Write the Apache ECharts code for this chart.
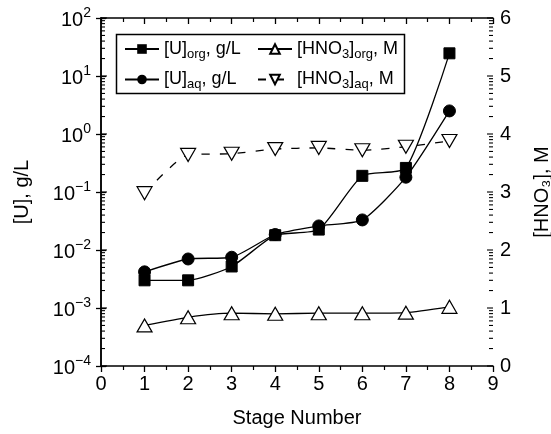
<!DOCTYPE html>
<html>
<head>
<meta charset="utf-8">
<script src="https://cdn.jsdelivr.net/npm/echarts@6/dist/echarts.min.js"></script>
<style>html,body{margin:0;padding:0;background:#fff;}#c{width:551px;height:434px;}</style>
</head>
<body>
<div id="c"></div>
<script>
const stages = [1, 2, 3, 4, 5, 6, 7, 8];
const uOrg = [0.0030, 0.0030, 0.0052, 0.0180, 0.0225, 0.19, 0.26, 24.6];
const uAq = [0.0042, 0.0070, 0.0075, 0.0185, 0.026, 0.033, 0.18, 2.5];
const hno3Org = [0.70, 0.84, 0.91, 0.90, 0.91, 0.91, 0.92, 1.02];
const hno3Aq = [2.98, 3.64, 3.66, 3.74, 3.76, 3.72, 3.78, 3.88];
const xTicks = [0, 1, 2, 3, 4, 5, 6, 7, 8, 9];
const logDecades = [-4, -3, -2, -1, 0, 1];
const logMinorMult = [2, 3, 4, 5, 6, 7, 8, 9];

const FONT = 'Liberation Sans, Arial, Helvetica, sans-serif';
const minorVals = [];
logDecades.forEach(d => logMinorMult.forEach(m => minorVals.push([m * Math.pow(10, d), 0])));
logDecades.concat([2]).forEach(d => minorVals.push([Math.pow(10, d), 1]));

function pairs(ys) { return stages.map((s, i) => [s, ys[i]]); }

const chart = echarts.init(document.getElementById('c'), null, {renderer: 'canvas'});
const supRich = {
  b: {fontSize: 20, fontFamily: FONT, color: '#000', lineHeight: 24, verticalAlign: 'bottom'},
  sup: {fontSize: 14, fontFamily: FONT, color: '#000', lineHeight: 24, verticalAlign: 'top', padding: [0, 0, 9, 0]}
};
const legRich = {
  a: {fontSize: 18, fontFamily: FONT, color: '#000'},
  s: {fontSize: 13, fontFamily: FONT, color: '#000', padding: [10, 0, 0, 0]}
};
const legendCommon = {
  orient: 'vertical', itemWidth: 34, itemHeight: 12, itemGap: 10,
  textStyle: {rich: legRich, fontSize: 18, fontFamily: FONT, color: '#000'},
  formatter: function (n) {
    const m = {
      'Uorg': '{a|[U]}{s|org}{a|, g/L}',
      'Uaq': '{a|[U]}{s|aq}{a|, g/L}',
      'Horg': '{a|[HNO}{s|3}{a|]}{s|org}{a|, M}',
      'Haq': '{a|[HNO}{s|3}{a|]}{s|aq}{a|, M}'
    };
    return m[n];
  }
};
const line = {color: '#000', width: 1.3};
const SM = 0.2;
const option = {
  animation: false,
  backgroundColor: '#fff',
  grid: {left: 101, right: 58, top: 18, bottom: 68, containLabel: false, outerBoundsMode: 'none'},
  xAxis: [{
    type: 'value', min: 0, max: 9, interval: 1, position: 'bottom',
    name: 'Stage Number', nameLocation: 'middle', nameGap: 42,
    nameTextStyle: {fontSize: 20, fontFamily: FONT, color: '#000'},
    axisLine: {lineStyle: {color: '#000', width: 1.5}},
    axisTick: {inside: false, length: 6, lineStyle: {color: '#000', width: 1.3}},
    minorTick: {show: true, splitNumber: 2, length: 4, lineStyle: {color: '#000', width: 1.2}},
    axisLabel: {fontSize: 20, fontFamily: FONT, color: '#000', margin: 8},
    splitLine: {show: false}
  }, {
    type: 'value', min: 0, max: 9, interval: 1, position: 'top',
    axisLine: {lineStyle: {color: '#000', width: 1.5}},
    axisTick: {inside: true, length: 6, lineStyle: {color: '#000', width: 1.3}},
    minorTick: {show: true, splitNumber: 2, length: 4, lineStyle: {color: '#000', width: 1.2}},
    axisLabel: {show: false}, splitLine: {show: false}
  }],
  yAxis: [{
    type: 'log', logBase: 10, min: 1e-4, max: 100, position: 'left',
    name: '[U], g/L', nameLocation: 'middle', nameGap: 69, nameRotate: 90,
    nameTextStyle: {fontSize: 20, fontFamily: FONT, color: '#000'},
    axisLine: {lineStyle: {color: '#000', width: 1.5}},
    axisTick: {inside: false, length: 5, lineStyle: {color: '#000', width: 1.3}},
    axisLabel: {margin: 10, rich: supRich, formatter: function (v) {
      const e = Math.round(Math.log10(v));
      return '{b|10}{sup|' + (e < 0 ? '\u2212' + (-e) : e) + '}';
    }},
    splitLine: {show: false}
  }, {
    type: 'value', min: 0, max: 6, interval: 1, position: 'right',
    name: '[HNO\u2083], M', nameLocation: 'middle', nameGap: 39, nameRotate: 90,
    nameTextStyle: {fontSize: 20, fontFamily: FONT, color: '#000'},
    axisLine: {lineStyle: {color: '#000', width: 1.5}},
    axisTick: {inside: false, length: 5, lineStyle: {color: '#000', width: 1.3}},
    axisLabel: {fontSize: 20, fontFamily: FONT, color: '#000', margin: 7},
    splitLine: {show: false}
  }],
  legend: [
    Object.assign({left: 119, top: 35, data: ['Uorg', 'Uaq']}, legendCommon),
    Object.assign({left: 252, top: 35, data: ['Horg', 'Haq']}, legendCommon)
  ],
  graphic: [{
    type: 'rect', left: 114, top: 32, shape: {width: 288, height: 59},
    style: {fill: 'none', stroke: '#000', lineWidth: 1.5}, z: 10
  }],
  series: [{
    type: 'custom', name: 'ticks', xAxisIndex: 0, yAxisIndex: 0, silent: true,
    data: minorVals, z: 1,
    renderItem: function (params, api) {
      const y = api.coord([0, api.value(0)])[1];
      const xl = api.coord([0, 1])[0];
      const xr = api.coord([9, 1])[0];
      const len = api.value(1) ? 6 : 4;
      return {type: 'group', children: [
        {type: 'line', shape: {x1: xl, y1: y, x2: xl + len, y2: y}, style: {stroke: '#000', lineWidth: 1.1}},
        {type: 'line', shape: {x1: xr, y1: y, x2: xr - len, y2: y}, style: {stroke: '#000', lineWidth: 1.1}}
      ]};
    }
  }, {
    name: 'Uorg', type: 'line', yAxisIndex: 0, data: pairs(uOrg), smooth: SM,
    symbol: 'rect', symbolSize: 11, lineStyle: line,
    itemStyle: {color: '#000', borderColor: '#000'}, z: 5
  }, {
    name: 'Uaq', type: 'line', yAxisIndex: 0, data: pairs(uAq), smooth: SM,
    symbol: 'circle', symbolSize: 12, lineStyle: line,
    itemStyle: {color: '#000', borderColor: '#000'}, z: 5
  }, {
    name: 'Horg', type: 'line', yAxisIndex: 1, data: pairs(hno3Org), smooth: SM,
    symbol: 'triangle', symbolSize: [15, 13], lineStyle: line, showAllSymbol: true,
    itemStyle: {color: '#fff', borderColor: '#000', borderWidth: 1.2}, z: 5
  }, {
    name: 'Haq', type: 'line', yAxisIndex: 1, data: pairs(hno3Aq), smooth: SM,
    symbol: 'triangle', symbolRotate: 180, symbolSize: [15, 13], showAllSymbol: true,
    lineStyle: {color: '#000', width: 1.3, type: [8, 10]},
    itemStyle: {color: '#fff', borderColor: '#000', borderWidth: 1.2}, z: 5
  }]
};
chart.setOption(option);
</script>
</body>
</html>
